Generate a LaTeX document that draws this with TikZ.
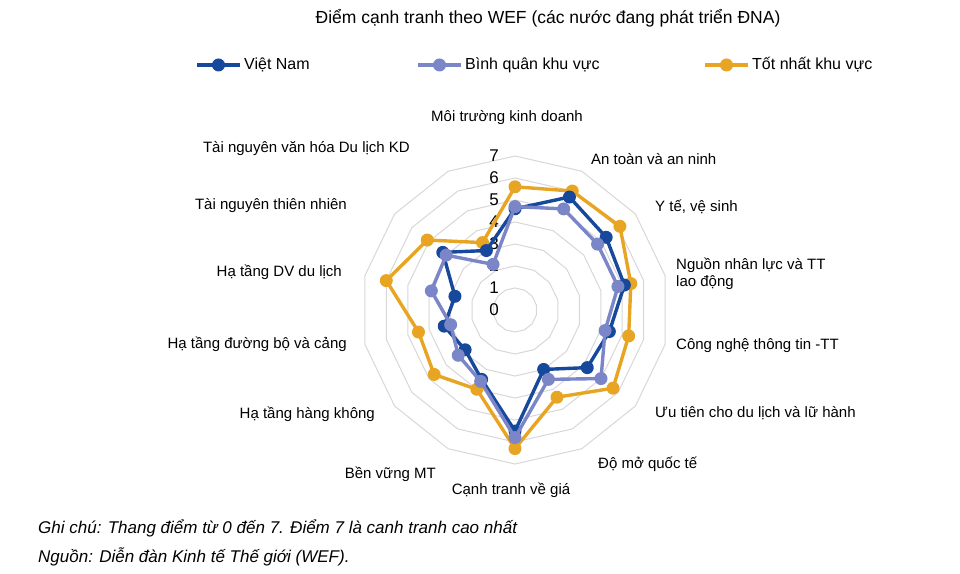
\documentclass[tikz,border=0pt]{standalone}
\usepackage{fontspec}
\setmainfont{Liberation Sans}
\usetikzlibrary{calc}
\definecolor{vnblue}{RGB}{22,72,155}
\definecolor{avgblue}{RGB}{123,134,200}
\definecolor{bestgold}{RGB}{232,165,36}
\definecolor{gridgray}{RGB}{215,215,215}
\newcommand\radarline[3]{%
  \foreach \v [count=\i from 0] in {#3} \coordinate (#1-\i) at ({90-\i*360/14}:{\v*22});
  \draw[#2,line width=3.4pt,line join=round] (#1-0) \foreach \i in {1,...,13}{ -- (#1-\i)} -- cycle;
  \foreach \i in {0,...,13} \fill[#2] (#1-\i) circle (6.5);
}
\begin{document}
\begin{tikzpicture}[x=1pt,y=1pt,font=\fontsize{15}{17}\selectfont,
  axis label/.style={inner sep=0pt},
  legend line/.style={line width=3.4pt}]
\useasboundingbox (0,0) rectangle (960,573);

% Title and legend
\node[font=\fontsize{17.5}{19}\selectfont] (title) at (548,555) {Điểm cạnh tranh theo WEF (các nước đang phát triển ĐNA)};
\foreach \x/\c/\t/\n in {197/vnblue/Việt Nam/vn,418/avgblue/Bình quân khu vực/avg,705/bestgold/Tốt nhất khu vực/best}{
  \coordinate (\n-a) at (\x,508);
  \coordinate (\n-b) at (\x+43,508);
  \draw[legend line,\c] (\n-a) -- (\n-b);
  \fill[\c] ($(\n-a)!0.5!(\n-b)$) circle (6.5);
  \node[anchor=west,inner sep=0pt,font=\fontsize{16}{18}\selectfont] (\n-lab) at (\x+47,508) {\t};
}

\begin{scope}[shift={(515,263)}]
% Grid
\foreach \r in {1,...,7}
  \draw[gridgray,line width=1pt] (90:\r*22) \foreach \i in {1,...,13}{ -- ({90-\i*360/14}:\r*22)} -- cycle;
\foreach \k in {0,...,7}
  \node[anchor=east,inner sep=0pt,font=\fontsize{17}{19}\selectfont] (tick-\k) at (-16,\k*22) {\k};

% Series
\radarline{best}{bestgold}{5.6,6.0,6.1,5.4,5.3,5.7,4.4,6.3,4.0,4.7,4.5,6.0,5.1,3.4}
\radarline{vn}{vnblue}{4.6,5.7,5.3,5.1,4.4,4.2,3.0,5.5,3.5,2.9,3.3,2.8,4.2,3.0}
\radarline{avg}{avgblue}{4.7,5.1,4.8,4.8,4.2,5.0,3.5,5.8,3.6,3.3,3.0,3.9,4.0,2.3}
\end{scope}

% Axis labels
\node[axis label] (l0) at (507,455) {Môi trường kinh doanh};
\node[axis label,anchor=west] (l1) at (591,414) {An toàn và an ninh};
\node[axis label,anchor=west] (l2) at (655,366) {Y tế, vệ sinh};
\node[axis label,anchor=west,align=left] (l3) at (676,299) {Nguồn nhân lực và TT\\lao động};
\node[axis label,anchor=west] (l4) at (676,227) {Công nghệ thông tin -TT};
\node[axis label,anchor=west] (l5) at (655,160) {Ưu tiên cho du lịch và lữ hành};
\node[axis label,anchor=west] (l6) at (598,109) {Độ mở quốc tế};
\node[axis label] (l7) at (511,83) {Cạnh tranh về giá};
\node[axis label,anchor=east] (l8) at (436,99) {Bền vững MT};
\node[axis label,anchor=east] (l9) at (375,159) {Hạ tầng hàng không};
\node[axis label,anchor=east] (l10) at (347,229) {Hạ tầng đường bộ và cảng};
\node[axis label,anchor=east] (l11) at (342,301) {Hạ tầng DV du lịch};
\node[axis label,anchor=east] (l12) at (347,367) {Tài nguyên thiên nhiên};
\node[axis label,anchor=east] (l13) at (410,424) {Tài nguyên văn hóa Du lịch KD};

% Notes
\node[anchor=west,inner sep=0pt,font=\fontsize{17}{19}\selectfont\itshape] (note) at (38,45) {Ghi chú: Thang điểm từ 0 đến 7. Điểm 7 là canh tranh cao nhất};
\node[anchor=west,inner sep=0pt,font=\fontsize{17}{19}\selectfont\itshape] (src) at (38,16) {Nguồn: Diễn đàn Kinh tế Thế giới (WEF).};
\end{tikzpicture}
\end{document}
